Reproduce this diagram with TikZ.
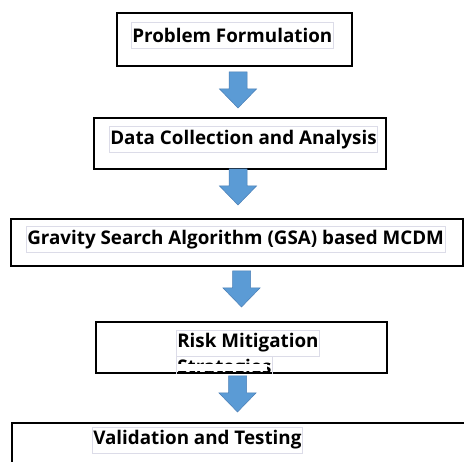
\documentclass[tikz,border=0pt]{standalone}
\usepackage{fontspec}
\setmainfont{Open Sans}
\usetikzlibrary{calc}

\definecolor{arrowblue}{HTML}{5B9BD5}
\definecolor{arrowedge}{HTML}{4A7EB5}
\definecolor{framegray}{HTML}{DCDCE8}

% block arrow pointing down: #1 = centre x, #2 = top y
\newcommand{\downblock}[2]{%
	\filldraw[fill=arrowblue, draw=arrowedge, line width=0.5pt]
		(#1-9,#2)--(#1+9,#2)--(#1+9,#2+17)--(#1+18.5,#2+17)--(#1,#2+36)
		--(#1-18.5,#2+17)--(#1-9,#2+17)--cycle;}

\begin{document}
\begin{tikzpicture}[x=1pt,y=-1pt,
	stepbox/.style={draw=black, line width=1.3pt, inner sep=0pt},
	textbox/.style={draw=framegray, line width=0.6pt, inner sep=1pt, anchor=west,
		minimum height=26pt, font=\fontsize{18.8}{20}\selectfont\bfseries}]
	\clip (0,0) rectangle (464,462);
	\fill[white] (0,0) rectangle (464,462);

	% the five steps
	\node[stepbox, minimum width=235pt, minimum height=53pt] (b1) at (234.5,39.5) {};
	\node[textbox] (t1) at (131,35) {Problem Formulation};

	\node[stepbox, minimum width=292pt, minimum height=51pt] (b2) at (240,143.5) {};
	\node[textbox] (t2) at (109,139.5) {Data Collection and Analysis};

	\node[stepbox, minimum width=452pt, minimum height=47pt] (b3) at (237,242.5) {};
	\node[textbox] (t3) at (26,239.5) {Gravity Search Algorithm (GSA) based MCDM};

	\node[stepbox, minimum width=291pt, minimum height=51pt] (b4) at (241.5,347.5) {};
	\node[textbox] (t4) at (176,343) {Risk Mitigation};
	\begin{scope}
		\clip (b4.south west) rectangle (b4.north east);
		\node[textbox] (t4b) at (176,369) {Strategies};
		\fill[white] (177,364.5) rectangle (267,371);
	\end{scope}

	\draw[stepbox] (12,423) rectangle (480,480);
	\node[textbox] (t5) at (92,440) {Validation and Testing};

	% arrows between the steps
	\downblock{238}{72}
	\downblock{238}{169}
	\downblock{241.5}{271}
	\downblock{237.5}{376}
\end{tikzpicture}
\end{document}
